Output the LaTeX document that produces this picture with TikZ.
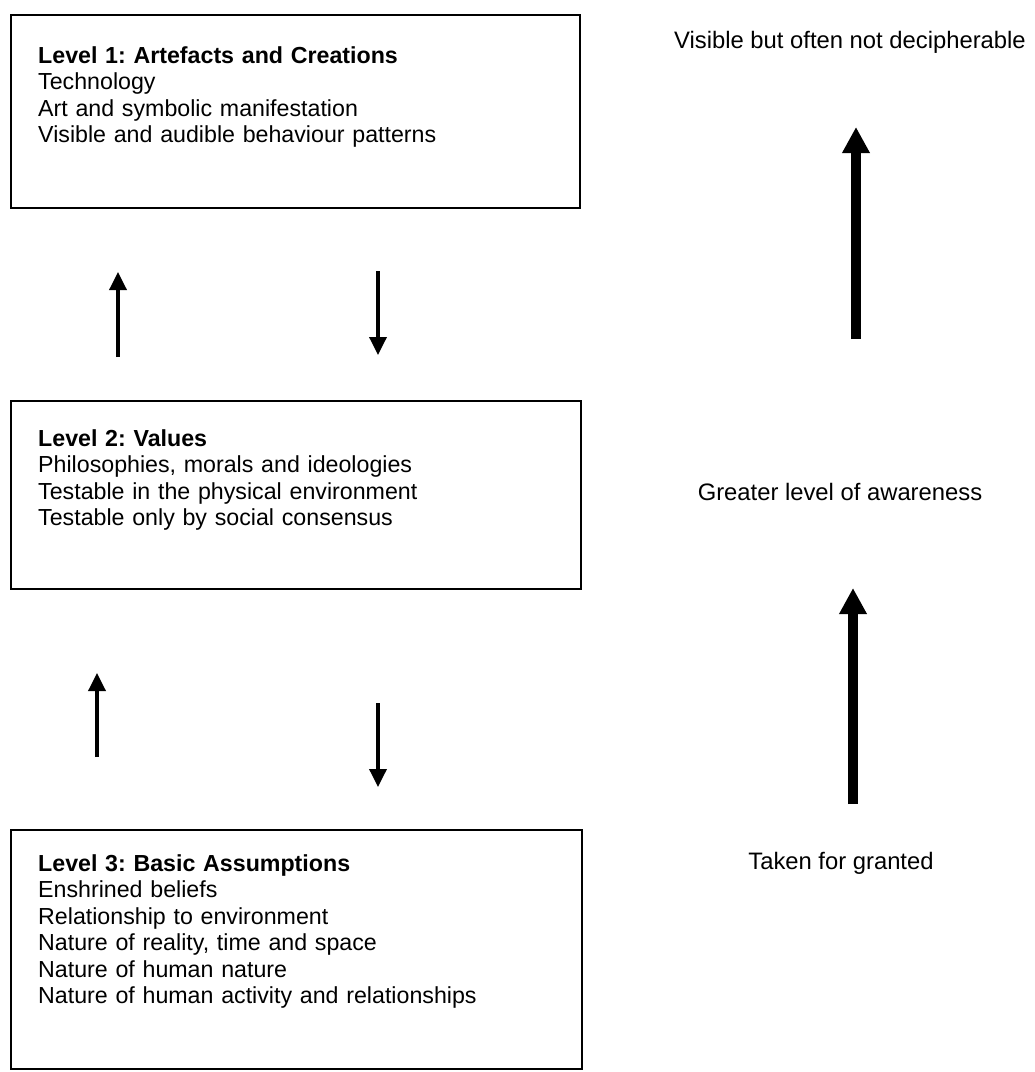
\documentclass[tikz,border=0pt]{standalone}
\usepackage{fontspec}
\setmainfont{Liberation Sans}
\usetikzlibrary{arrows.meta}
\frenchspacing

\begin{document}
\begin{tikzpicture}[x=1pt,y=-1pt,
  levelbox/.style={draw, line width=2pt, anchor=north west, inner sep=0pt},
  boxtext/.style={anchor=base west, inner sep=0pt, text width=530pt, align=left,
    font=\fontsize{23.2}{26.5}\selectfont},
  sidetext/.style={anchor=base, inner sep=0pt, font=\fontsize{23.8}{27}\selectfont},
  thinarrow/.style={line width=3.5pt, -{Triangle[width=17pt,length=18pt]}},
  thickarrow/.style={line width=10pt, -{Triangle[width=26pt,length=26pt]}}
]
\useasboundingbox (0,0) rectangle (1035,1072);

% the three levels
\node[levelbox, minimum width=569pt, minimum height=193pt] (lvl1) at (10,14) {};
\node[levelbox, minimum width=570pt, minimum height=188pt] (lvl2) at (10,400) {};
\node[levelbox, minimum width=571pt, minimum height=239pt] (lvl3) at (10,829) {};

\node[boxtext] (txt1) at (38,63) {\textbf{Level 1: Artefacts and Creations}\\
  Technology\\
  Art and symbolic manifestation\\
  Visible and audible behaviour patterns};
\node[boxtext] (txt2) at (38,446) {\textbf{Level 2: Values}\\
  Philosophies, morals and ideologies\\
  Testable in the physical environment\\
  Testable only by social consensus};
\node[boxtext] (txt3) at (38,871) {\textbf{Level 3: Basic Assumptions}\\
  Enshrined beliefs\\
  Relationship to environment\\
  Nature of reality, time and space\\
  Nature of human nature\\
  Nature of human activity and relationships};

% side labels
\node[sidetext] (vis) at (850,48) {Visible but often not decipherable};
\node[sidetext] (aware) at (840,500) {Greater level of awareness};
\node[sidetext] (taken) at (841,869) {Taken for granted};

% arrow end points
\coordinate (u1s) at (118,357); \coordinate (u1e) at (118,272);
\coordinate (d1s) at (378,271); \coordinate (d1e) at (378,355);
\coordinate (u2s) at (97,757);  \coordinate (u2e) at (97,673);
\coordinate (d2s) at (378,703); \coordinate (d2e) at (378,787);
\coordinate (k1s) at (856,339); \coordinate (k1e) at (856,127);
\coordinate (k2s) at (853,804); \coordinate (k2e) at (853,588);

\draw[thinarrow] (u1s) -- (u1e);
\draw[thinarrow] (d1s) -- (d1e);
\draw[thinarrow] (u2s) -- (u2e);
\draw[thinarrow] (d2s) -- (d2e);
\draw[thickarrow] (k1s) -- (k1e);
\draw[thickarrow] (k2s) -- (k2e);
\end{tikzpicture}
\end{document}
